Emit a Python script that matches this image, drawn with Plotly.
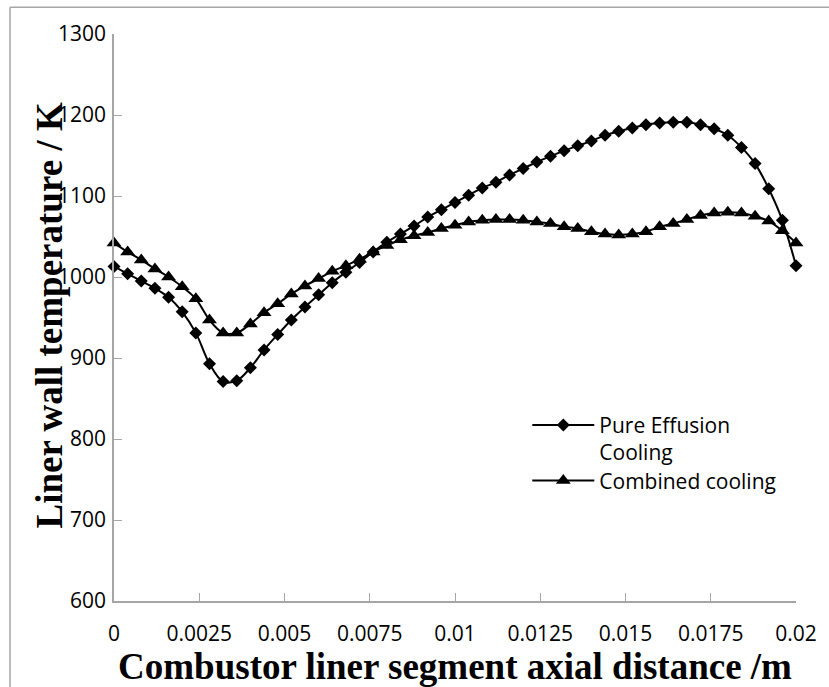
import plotly.graph_objects as go

# Axial distance (m)
axial_distance = [0.0, 0.0004, 0.0008, 0.0012, 0.0016, 0.002, 0.0024, 0.0028, 0.0032, 0.0036,
                  0.004, 0.0044, 0.0048, 0.0052, 0.0056, 0.006, 0.0064, 0.0068, 0.0072, 0.0076,
                  0.008, 0.0084, 0.0088, 0.0092, 0.0096, 0.01, 0.0104, 0.0108, 0.0112, 0.0116,
                  0.012, 0.0124, 0.0128, 0.0132, 0.0136, 0.014, 0.0144, 0.0148, 0.0152, 0.0156,
                  0.016, 0.0164, 0.0168, 0.0172, 0.0176, 0.018, 0.0184, 0.0188, 0.0192, 0.0196,
                  0.02]

# Liner wall temperature (K)
pure_effusion = [1013, 1004, 995, 986, 975, 957, 931, 893, 871, 872,
                 888, 910, 929, 947, 963, 978, 993, 1006, 1018, 1031,
                 1043, 1053, 1063, 1074, 1083, 1092, 1101, 1110, 1117, 1126,
                 1134, 1142, 1149, 1156, 1162, 1168, 1175, 1180, 1184, 1188,
                 1190, 1191, 1191, 1188, 1183, 1175, 1160, 1140, 1109, 1070,
                 1014]

combined_cooling = [1042, 1031, 1021, 1010, 1000, 988, 973, 947, 931, 931,
                    942, 956, 967, 979, 989, 998, 1007, 1014, 1022, 1031,
                    1039, 1046, 1051, 1055, 1060, 1064, 1068, 1070, 1071, 1071,
                    1070, 1068, 1066, 1062, 1060, 1056, 1053, 1052, 1053, 1056,
                    1062, 1066, 1071, 1076, 1079, 1080, 1079, 1075, 1069, 1057,
                    1042]

x_tick_values = [0, 0.0025, 0.005, 0.0075, 0.01, 0.0125, 0.015, 0.0175, 0.02]
x_tick_labels = ["0", "0.0025", "0.005", "0.0075", "0.01", "0.0125", "0.015", "0.0175", "0.02"]
y_tick_values = [600, 700, 800, 900, 1000, 1100, 1200, 1300]

series_names = ["Pure Effusion<br>Cooling", "Combined cooling"]

AXIS_GRAY = "#a6a6a6"
TICK_FONT = dict(family="Open Sans", size=21, color="black")
TITLE_FONT = dict(family="Liberation Serif", size=37, color="black", weight="bold")
LEGEND_FONT = dict(family="Open Sans", size=21, color="black")

fig = go.Figure()
fig.add_trace(go.Scatter(
    x=axial_distance, y=pure_effusion, name=series_names[0],
    mode="lines+markers", cliponaxis=False, legend="legend",
    line=dict(color="black", width=2, shape="spline"),
    marker=dict(symbol="diamond", size=10, color="black"),
))
fig.add_trace(go.Scatter(
    x=axial_distance, y=combined_cooling, name=series_names[1],
    mode="lines+markers", cliponaxis=False, legend="legend2",
    line=dict(color="black", width=2, shape="spline"),
    marker=dict(symbol="triangle-up", size=13, color="black"),
))

legend_common = dict(
    xanchor="left", yanchor="top", font=LEGEND_FONT,
    itemwidth=62, valign="top", bgcolor="rgba(0,0,0,0)",
)

fig.update_layout(
    width=829, height=687,
    margin=dict(l=114, r=33, t=34, b=86),
    paper_bgcolor="white", plot_bgcolor="white",
    showlegend=True,
    legend=dict(x=0.606, y=0.346, **legend_common),
    legend2=dict(x=0.606, y=0.248, **legend_common),
    xaxis=dict(
        range=[0, 0.02], showgrid=False, zeroline=False,
        showline=True, linecolor=AXIS_GRAY, linewidth=1.5,
        ticks="inside", ticklen=8, tickcolor=AXIS_GRAY, tickwidth=1.2,
        tickvals=x_tick_values, ticktext=x_tick_labels, tickfont=TICK_FONT,
        ticklabelstandoff=13,
        title=dict(text="Combustor liner segment axial distance /m", font=TITLE_FONT, standoff=0),
    ),
    yaxis=dict(
        range=[600, 1300], showgrid=False, zeroline=False,
        showline=True, linecolor=AXIS_GRAY, linewidth=1.5,
        ticks="inside", ticklen=8, tickcolor=AXIS_GRAY, tickwidth=1.2,
        tickvals=y_tick_values, tickfont=TICK_FONT, ticklabelstandoff=2,
    ),
    annotations=[dict(
        text="Liner wall temperature / K", textangle=-90,
        xref="paper", yref="paper", x=-0.095, y=0.504,
        xanchor="center", yanchor="middle", showarrow=False,
        font=TITLE_FONT,
    )],
    shapes=[
        dict(type="line", xref="paper", yref="paper", x0=-0.1525, x1=1.2, y0=1.047, y1=1.047,
             line=dict(color=AXIS_GRAY, width=1.5)),
        dict(type="line", xref="paper", yref="paper", x0=-0.1525, x1=-0.1525, y0=1.047, y1=-0.3,
             line=dict(color=AXIS_GRAY, width=1.5)),
    ],
)

fig.write_html(
    "out.html",
    config={"displayModeBar": False},
    post_script="document.body.style.margin='0';document.body.style.overflow='hidden';",
)
